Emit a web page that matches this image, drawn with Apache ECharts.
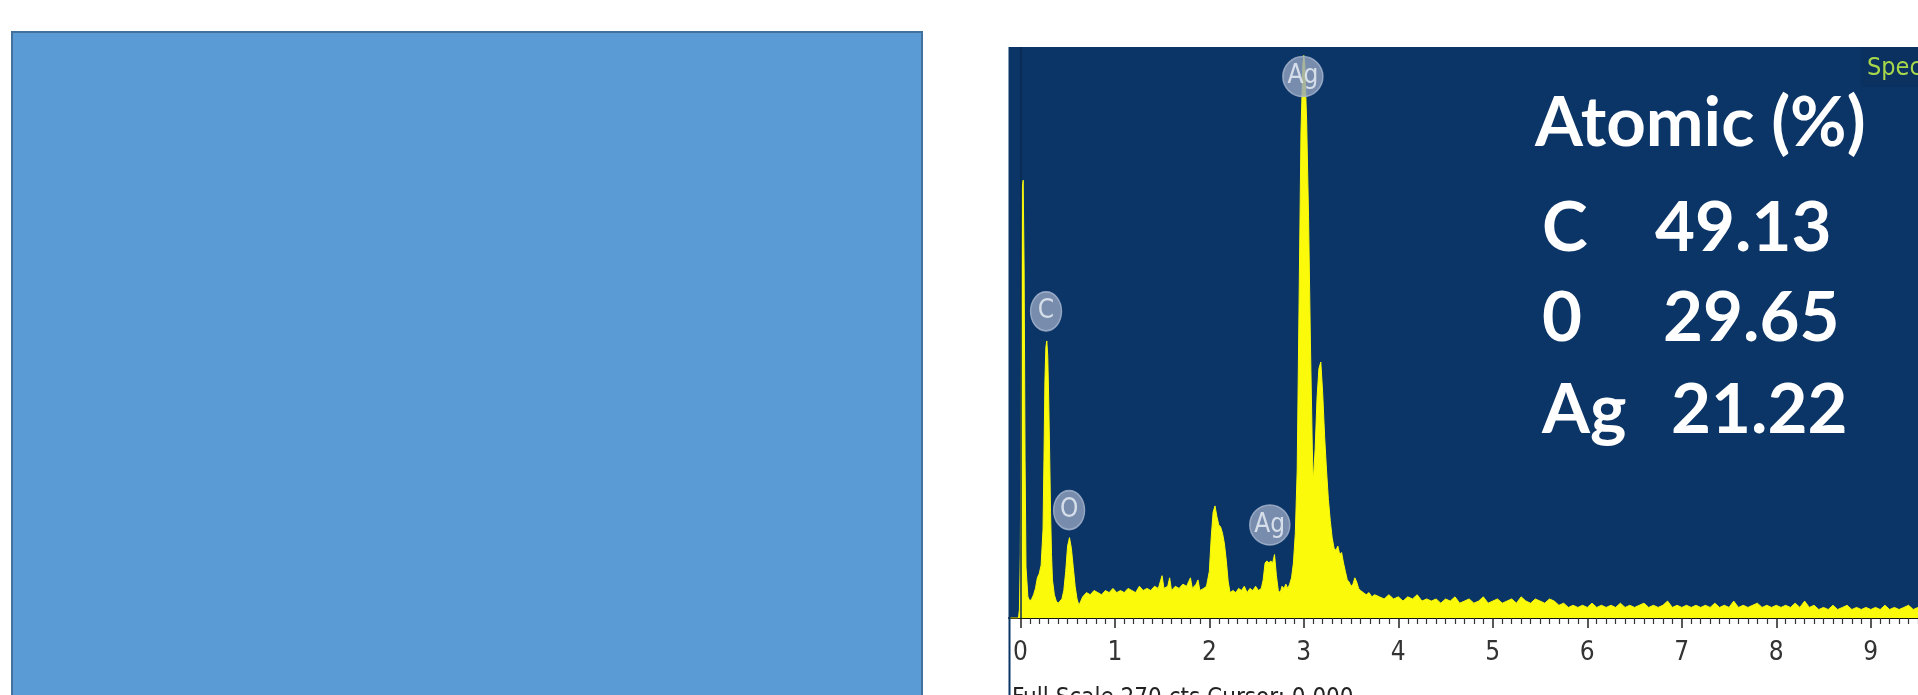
<!DOCTYPE html>
<html>
<head>
<meta charset="utf-8">
<title>EDS spectrum – Ag / C / O</title>
<script src="https://cdn.jsdelivr.net/npm/echarts@6/dist/echarts.min.js"></script>
<style>
  html, body { margin: 0; padding: 0; background: #ffffff; }
  #chart { width: 1918px; height: 695px; }
</style>
</head>
<body>
<div id="chart"></div>
<script>
// ---- data -------------------------------------------------------------
const fullScaleCts = 270;          // vertical full scale of the spectrum (counts)
const energyRange = [-0.12, 9.5];  // keV shown across the panel
const cursorKeV = 0.0;

// x-axis tick labels (keV)
const majorTicks = [0, 1, 2, 3, 4, 5, 6, 7, 8, 9];

// EDS spectrum: [energy keV, counts]
const spectrum = [
  [-0.12,0],[-0.02,0],[-0.01,4],[0.00,30],[0.01,140],[0.02,203],[0.03,207],[0.04,165],[0.05,75],[0.06,24],
  [0.08,10],[0.10,8],[0.12,9],[0.14,11],[0.16,14],[0.18,19],[0.20,21],[0.22,25],[0.24,42],[0.25,75],
  [0.26,112],[0.27,128],[0.28,131],[0.29,124],[0.30,104],[0.31,78],[0.32,50],[0.33,30],[0.34,18],[0.36,11],
  [0.38,8],[0.40,7],[0.42,7],[0.44,9],[0.46,13],[0.48,22],[0.50,34],[0.52,38],[0.54,33],[0.56,24],
  [0.58,15],[0.60,9],[0.62,6],[0.64,8],[0.66,10],[0.70,12],[0.74,11],[0.78,13],[0.82,12],[0.86,11],
  [0.90,13],[0.94,12],[0.98,14],[1.02,12],[1.06,13],[1.10,12],[1.14,14],[1.18,13],[1.22,12],[1.26,15],
  [1.30,13],[1.34,14],[1.38,13],[1.42,15],[1.46,14],[1.50,20],[1.52,14],[1.56,15],[1.58,19],[1.60,13],
  [1.64,15],[1.68,14],[1.72,16],[1.76,15],[1.80,19],[1.82,14],[1.86,16],[1.88,18],[1.90,13],[1.94,14],
  [1.97,15],[2.00,22],[2.02,38],[2.04,50],[2.06,53],[2.08,48],[2.10,44],[2.12,43],[2.14,40],[2.16,35],
  [2.18,27],[2.20,17],[2.22,12],[2.25,13],[2.28,12],[2.31,14],[2.34,13],[2.37,15],[2.40,12],[2.43,14],
  [2.46,13],[2.49,15],[2.52,13],[2.55,14],[2.57,18],[2.59,26],[2.61,27],[2.63,26],[2.65,27],[2.67,26],
  [2.69,30],[2.71,20],[2.73,13],[2.75,12],[2.77,15],[2.79,14],[2.81,16],[2.83,14],[2.85,16],[2.87,19],
  [2.89,26],[2.91,40],[2.93,70],[2.95,150],[2.97,230],[2.99,262],[3.00,266],[3.01,262],[3.03,235],[3.05,190],
  [3.07,130],[3.09,80],[3.10,64],[3.12,80],[3.14,104],[3.16,118],[3.18,121],[3.20,106],[3.22,86],[3.24,70],
  [3.26,56],[3.28,46],[3.30,38],[3.32,33],[3.34,32],[3.36,34],[3.38,30],[3.40,31],[3.42,26],[3.44,22],
  [3.46,18],[3.48,17],[3.50,15],[3.52,16],[3.54,19],[3.56,17],[3.58,14],[3.60,13],[3.63,12],[3.66,11],
  [3.69,12],[3.72,10],[3.75,11],[3.80,10],[3.85,9],[3.90,11],[3.95,9],[4.00,10],[4.05,8],[4.10,10],
  [4.15,9],[4.20,11],[4.25,8],[4.30,9],[4.35,8],[4.40,9],[4.45,7],[4.50,9],[4.55,8],[4.60,10],
  [4.65,7],[4.70,8],[4.75,9],[4.80,7],[4.85,8],[4.90,10],[4.95,7],[5.00,8],[5.05,9],[5.10,7],
  [5.15,8],[5.20,9],[5.25,7],[5.30,10],[5.35,8],[5.40,7],[5.45,9],[5.50,8],[5.55,7],[5.60,9],
  [5.65,8],[5.70,6],[5.75,7],[5.80,5],[5.85,6],[5.90,5],[5.95,6],[6.00,5],[6.05,7],[6.10,5],
  [6.15,6],[6.20,5],[6.25,6],[6.30,5],[6.35,7],[6.40,5],[6.45,6],[6.50,5],[6.55,6],[6.60,7],
  [6.65,5],[6.70,6],[6.75,5],[6.80,6],[6.85,8],[6.90,5],[6.95,6],[7.00,5],[7.05,6],[7.10,5],
  [7.15,6],[7.20,5],[7.25,6],[7.30,5],[7.35,7],[7.40,5],[7.45,6],[7.50,5],[7.55,8],[7.60,5],
  [7.65,6],[7.70,5],[7.75,6],[7.80,7],[7.85,5],[7.90,6],[7.95,5],[8.00,6],[8.05,5],[8.10,6],
  [8.15,5],[8.20,7],[8.25,5],[8.30,8],[8.35,5],[8.40,6],[8.45,4],[8.50,5],[8.55,4],[8.60,6],
  [8.65,4],[8.70,5],[8.75,6],[8.80,4],[8.85,5],[8.90,4],[8.95,5],[9.00,4],[9.05,5],[9.10,4],
  [9.15,6],[9.20,4],[9.25,5],[9.30,4],[9.35,5],[9.40,6],[9.45,4],[9.50,5]
];

// element markers placed above their lines: [symbol, keV, counts]
const peakMarkers = [
  ['C', 0.272, 145],
  ['O', 0.516, 51],
  ['Ag', 2.64, 44],
  ['Ag', 2.99, 256]
];

// quantification table
const atomicTitle = 'Atomic (%)';
const atomicElements = ['C', '0', 'Ag'];
const atomicValues = ['49.13', '29.65', '21.22'];

// ---- chart ------------------------------------------------------------
const narrowFont = "'Liberation Sans Narrow', 'DejaVu Sans Condensed', 'Liberation Sans', Arial, sans-serif";
const boldFont = "Lato, 'Open Sans', 'Liberation Sans', sans-serif";

const minorTicks = [];
for (let i = 0; i <= Math.round(energyRange[1] * 10); i++) {
  if (i % 10 !== 0) minorTicks.push(i / 10);
}

const chart = echarts.init(document.getElementById('chart'), null, { renderer: 'canvas' });

// quantification text rows
const rowMiddles = [229, 319, 411];
const valueLefts = [1655, 1663, 1671];
const tableGraphics = [{
  type: 'text', z: 100, x: 1535, y: 124,
  style: { text: atomicTitle, fill: '#ffffff', font: 'bold 69px ' + boldFont, verticalAlign: 'middle', align: 'left' }
}];
atomicElements.forEach((el, i) => {
  tableGraphics.push({
    type: 'text', z: 100, x: 1542, y: rowMiddles[i],
    style: { text: el, fill: '#ffffff', font: 'bold 69px ' + boldFont, verticalAlign: 'middle', align: 'left' }
  });
  tableGraphics.push({
    type: 'text', z: 100, x: valueLefts[i], y: rowMiddles[i],
    style: { text: atomicValues[i], fill: '#ffffff', font: 'bold 69px ' + boldFont, verticalAlign: 'middle', align: 'left' }
  });
});

const option = {
  animation: false,
  backgroundColor: '#ffffff',
  grid: {
    left: 1009, top: 47, right: 0, bottom: 77,
    show: true, backgroundColor: '#0B3467', borderWidth: 0,
    outerBoundsMode: 'none', containLabel: false
  },
  xAxis: [
    {
      type: 'value', min: energyRange[0], max: energyRange[1], position: 'bottom',
      splitLine: { show: false },
      axisLine: { show: true, onZero: false, lineStyle: { color: '#151515', width: 2 } },
      axisTick: { show: true, customValues: majorTicks, length: 10, lineStyle: { color: '#222222', width: 1.5 } },
      axisLabel: {
        customValues: majorTicks, margin: 22, fontSize: 26, color: '#333333',
        fontFamily: narrowFont, formatter: v => String(v)
      }
    },
    {
      type: 'value', min: energyRange[0], max: energyRange[1], position: 'bottom',
      splitLine: { show: false },
      axisLine: { show: false },
      axisTick: { show: true, customValues: minorTicks, length: 6, lineStyle: { color: '#333333', width: 1.2 } },
      axisLabel: { show: false }
    }
  ],
  yAxis: {
    type: 'value', min: 0, max: fullScaleCts, show: false, splitLine: { show: false }
  },
  series: [
    {
      type: 'line', xAxisIndex: 0, data: spectrum, symbol: 'none', silent: true,
      lineStyle: { color: '#FAFA0A', width: 1 },
      areaStyle: { color: '#FAFA0A', opacity: 1 },
      z: 2,
      markLine: {
        silent: true, symbol: ['none', 'none'], label: { show: false },
        lineStyle: { color: '#0A2A52', width: 1.5, type: 'solid' },
        data: [{ xAxis: cursorKeV }], z: 5
      }
    },
    {
      type: 'scatter', xAxisIndex: 0, silent: true, z: 6,
      data: peakMarkers.map(m => ({ value: [m[1], m[2]], name: m[0], symbolSize: m[0].length > 1 ? [40, 40] : [31, 39] })),
      symbol: 'circle',
      itemStyle: { color: '#93A4C0', borderColor: '#A9B8D0', borderWidth: 1.5 },
      label: {
        show: true, position: 'inside', formatter: p => p.name,
        color: '#EEF2F8', fontSize: 26, fontFamily: narrowFont
      }
    }
  ],
  graphic: [
    // blank placeholder panel on the left
    {
      type: 'rect', z: 1, shape: { x: 12, y: 32, width: 910, height: 720 },
      style: { fill: '#5B9BD5', stroke: '#41719C', lineWidth: 2 }
    },
    // left frame of the spectrum window
    {
      type: 'line', z: 10, shape: { x1: 1009.5, y1: 47, x2: 1009.5, y2: 695 },
      style: { stroke: '#0B3467', lineWidth: 2 }
    },
    // spectrum name tab
    {
      type: 'rect', z: 10, shape: { x: 1861, y: 47, width: 57, height: 40 },
      style: { fill: '#0A3160' }
    },
    {
      type: 'text', z: 11, x: 1867, y: 68,
      style: { text: 'Spectrum 1', fill: '#A8D84A', font: '25px ' + narrowFont, verticalAlign: 'middle', align: 'left' }
    },
    // status line under the axis
    {
      type: 'text', z: 11, x: 1012, y: 699,
      style: { text: 'Full Scale ' + fullScaleCts + ' cts Cursor: ' + cursorKeV.toFixed(3), fill: '#222222', font: '24px ' + narrowFont, verticalAlign: 'middle', align: 'left' }
    }
  ].concat(tableGraphics)
};

chart.setOption(option);
</script>
</body>
</html>
